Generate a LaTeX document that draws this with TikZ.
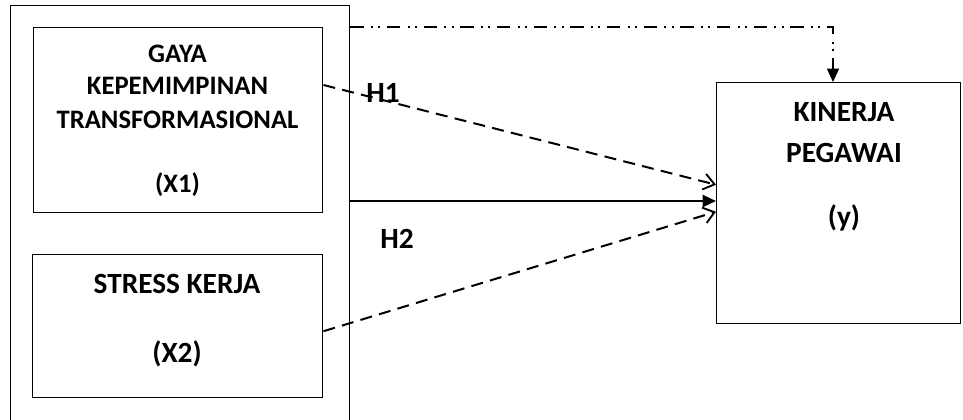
\documentclass[tikz,border=0pt]{standalone}
\usepackage{fontspec}
\setmainfont{Carlito}
\usetikzlibrary{arrows.meta,calc}
\begin{document}
\begin{tikzpicture}[x=0.75pt,y=-0.75pt,
  box/.style={draw,line width=1.1pt,rectangle,inner sep=0pt,anchor=north west},
  txtA/.style={font=\fontsize{20}{24}\selectfont\bfseries,anchor=base,inner sep=0pt},
  txtB/.style={font=\fontsize{22}{26}\selectfont\bfseries,anchor=base,inner sep=0pt},
  dashedarrow/.style={line width=1.5pt,dash pattern=on 9pt off 5.5pt,-{Straight Barb[length=8pt,width=12pt,line width=1.4pt]}},
  solidarrow/.style={line width=1.7pt,-{Triangle[length=10pt,width=9pt]}},
  dashdot/.style={line width=1pt,dash pattern=on 10pt off 5.5pt on 1.5pt off 4pt on 1.5pt off 5pt,-{Triangle[length=10pt,width=9pt]}}]
\useasboundingbox (0,0) rectangle (963,420);
\clip (0,0) rectangle (963,420);
\fill[white] (0,0) rectangle (963,420);
% outer group box
\node[box,line width=1pt,minimum width=339*0.75pt,minimum height=440*0.75pt] (outer) at (10,5) {};
% inner boxes
\node[box,minimum width=289*0.75pt,minimum height=185*0.75pt] (b1) at (33,27) {};
\node[box,minimum width=290*0.75pt,minimum height=143*0.75pt] (b2) at (32,254) {};
\node[box,minimum width=244*0.75pt,minimum height=241*0.75pt] (yb) at (716,82) {};
% texts
\node[txtA] (t1) at (177.5,63) {GAYA};
\node[txtA] (t2) at (177.5,95) {KEPEMIMPINAN};
\node[txtA] (t3) at (177.5,129) {TRANSFORMASIONAL};
\node[txtA] (t4) at (177.5,193) {(X1)};
\node[txtB] (t5) at (177,293) {STRESS KERJA};
\node[txtB] (t6) at (177,362) {(X2)};
\node[txtB] (t7) at (844,122) {KINERJA};
\node[txtB] (t8) at (844,163) {PEGAWAI};
\node[txtB] (t9) at (844,227) {(y)};
\node[txtB] (h1) at (383,103) {H1};
\node[txtB] (h2) at (397,248) {H2};
% connectors
\coordinate (dd) at (833,27);
\draw[dashdot] (outer.north east |- dd) -- (dd) -- (dd |- yb.north);
\draw[dashedarrow] ($(b1.north east)+(0,58)$) -- ($(yb.west)+(0,-18.5)$);
\draw[solidarrow] (outer.east |- 0,201) -- (yb.west |- 0,201);
\draw[dashedarrow] ($(b2.east)+(0,5)$) -- ($(yb.west)+(0,8.5)$);
\end{tikzpicture}
\end{document}
